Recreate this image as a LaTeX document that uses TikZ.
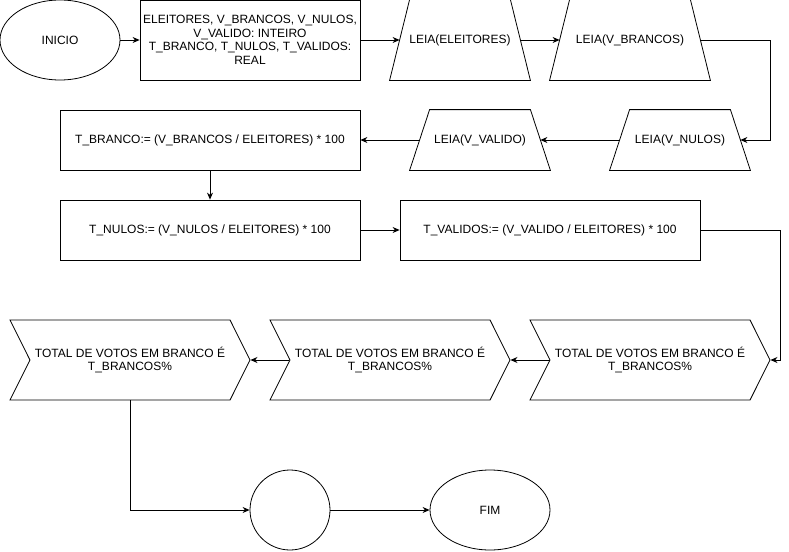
\documentclass[tikz,border=0pt]{standalone}
\usepackage{fontspec}
\setmainfont{Liberation Sans}
\usetikzlibrary{arrows.meta,shapes.geometric,shapes.symbols}

\begin{document}
\begin{tikzpicture}[x=1pt,y=-1pt,line width=0.8pt,>={Stealth[length=7pt,width=6pt]}]
\tikzstyle{every node}=[font=\fontsize{12}{13.5}\selectfont,inner sep=0pt,draw,line width=0.8pt]
\tikzstyle{terminal}=[ellipse,minimum width=120pt,minimum height=80pt]
\tikzstyle{processo}=[rectangle,align=center,minimum width=300pt,minimum height=60pt]
\tikzstyle{entrada}=[rectangle,draw=none,minimum width=120pt]
\tikzstyle{saida}=[signal,signal to=east,signal from=west,signal pointer angle=127,align=center,minimum width=240pt,minimum height=80pt]
\useasboundingbox (0,0) rectangle (789,551);
% linha 1
\node[terminal] (inicio) at (60,40) {INICIO};
\node[processo,minimum width=220pt,minimum height=80pt] (decl) at (250,40)
  {ELEITORES, V\_BRANCOS, V\_NULOS,\\V\_VALIDO: INTEIRO\\T\_BRANCO, T\_NULOS, T\_VALIDOS:\\REAL};
\node[entrada,minimum height=80pt] (leiael) at (460,40) {LEIA(ELEITORES)};
\node[entrada,minimum height=80pt,minimum width=140pt] (leiavb) at (630,40) {LEIA(V\_BRANCOS)};
% linha 2
\node[entrada,minimum height=60pt] (leiavn) at (680,140) {LEIA(V\_NULOS)};
\node[entrada,minimum height=60pt] (leiavv) at (480,140) {LEIA(V\_VALIDO)};
\node[processo] (tbranco) at (210,140) {T\_BRANCO:= (V\_BRANCOS / ELEITORES) * 100};
% linha 3
\node[processo] (tnulos) at (210,230) {T\_NULOS:= (V\_NULOS / ELEITORES) * 100};
\node[processo] (tvalidos) at (550,230) {T\_VALIDOS:= (V\_VALIDO / ELEITORES) * 100};
% saidas
\node[saida] (saida3) at (650,360) {TOTAL DE VOTOS EM BRANCO É\\T\_BRANCOS\%};
\node[saida] (saida2) at (390,360) {TOTAL DE VOTOS EM BRANCO É\\T\_BRANCOS\%};
\node[saida] (saida1) at (130,360) {TOTAL DE VOTOS EM BRANCO É\\T\_BRANCOS\%};
% fim
\node[circle,minimum size=80pt] (juncao) at (290,510) {};
\node[terminal] (fim) at (490,510) {FIM};
\coordinate (c1) at (770,40);
\coordinate (c2) at (780,230);

% contorno das entradas (trapezios)
\foreach \n in {leiael,leiavb,leiavn,leiavv}
  \draw ([xshift=-10pt]\n.south west) -- ([xshift=10pt]\n.north west)
     -- ([xshift=-10pt]\n.north east) -- ([xshift=10pt]\n.south east) -- cycle;

\draw[->] (inicio) -- (decl);
\draw[->] (decl) -- (leiael);
\draw[->] (leiael) -- (leiavb);
\draw[->] (leiavb.east) -- (c1) |- (leiavn.east);
\draw[->] (leiavn) -- (leiavv);
\draw[->] (leiavv) -- (tbranco);
\draw[->] (tbranco) -- (tnulos);
\draw[->] (tnulos) -- (tvalidos);
\draw[->] (tvalidos.east) -- (c2) |- (saida3.east);
\draw[->] (saida3) -- (saida2);
\draw[->] (saida2) -- (saida1);
\draw[->] (saida1.south) |- (juncao);
\draw[->] (juncao) -- (fim);
\end{tikzpicture}
\end{document}
